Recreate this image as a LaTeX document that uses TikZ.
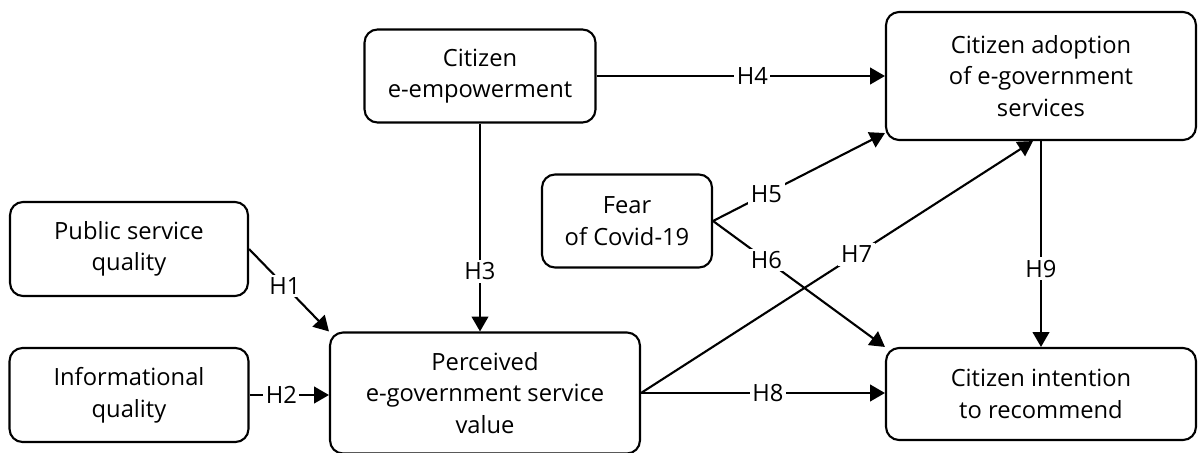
\documentclass[tikz,border=0pt]{standalone}
\usepackage{fontspec}
\setmainfont{Open Sans}
\usetikzlibrary{arrows.meta}

\begin{document}
\begin{tikzpicture}[x=0.02cm, y=-0.02cm, line width=1.2pt,
    >={Triangle[length=8.5pt,width=9.5pt]},
    every node/.style={font=\fontsize{13.5}{18}\selectfont},
    factor/.style={draw, rounded corners=0.26cm, align=center, inner sep=0pt},
    hyp/.style={fill=white, inner sep=1.5pt}]
  \useasboundingbox (0,0) rectangle (1198,453);
  \node [factor, minimum width=4.76cm, minimum height=1.88cm] (PSQ) at (129, 249) {Public service\\quality};
  \node [factor, minimum width=4.78cm, minimum height=1.88cm] (IQ) at (129, 395) {Informational\\quality};
  \node [factor, minimum width=6.2cm, minimum height=2.42cm] (PV) at (485, 393) {Perceived\\e-government service\\value};
  \node [factor, minimum width=4.62cm, minimum height=1.86cm] (CE) at (480, 76) {Citizen\\e-empowerment};
  \node [factor, minimum width=3.4cm, minimum height=1.86cm] (FC) at (627, 221) {Fear\\of Covid-19};
  \node [factor, minimum width=6.2cm, minimum height=2.56cm] (CA) at (1041, 76) {Citizen adoption\\of e-government\\services};
  \node [factor, minimum width=6.2cm, minimum height=1.84cm] (CI) at (1041, 394) {Citizen intention\\to recommend};
  \draw [->] (PSQ.east) -- node [hyp, pos=0.45] {H1} (PV.north west);
  \draw [->] (IQ.east) -- node [hyp, pos=0.4] {H2} (IQ.east -| PV.west);
  \draw [->] (CE.south) -- node [hyp, pos=0.71] {H3} (CE.south |- PV.north);
  \draw [->] (CE.east) -- node [hyp, pos=0.54] {H4} (CE.east -| CA.west);
  \draw [->] (FC.east) -- node [hyp, pos=0.31] {H5} ([shift={(0,-8)}]CA.south west);
  \draw [->] (FC.east) -- node [hyp, pos=0.31] {H6} (CI.north west);
  \draw [->] (PV.east) -- node [hyp, pos=0.55] {H7} ([shift={(-8,0)}]CA.south);
  \draw [->] (PV.east) -- node [hyp, pos=0.52] {H8} (PV.east -| CI.west);
  \draw [->] (CA.south) -- node [hyp, pos=0.62] {H9} (CI.north);
\end{tikzpicture}
\end{document}
